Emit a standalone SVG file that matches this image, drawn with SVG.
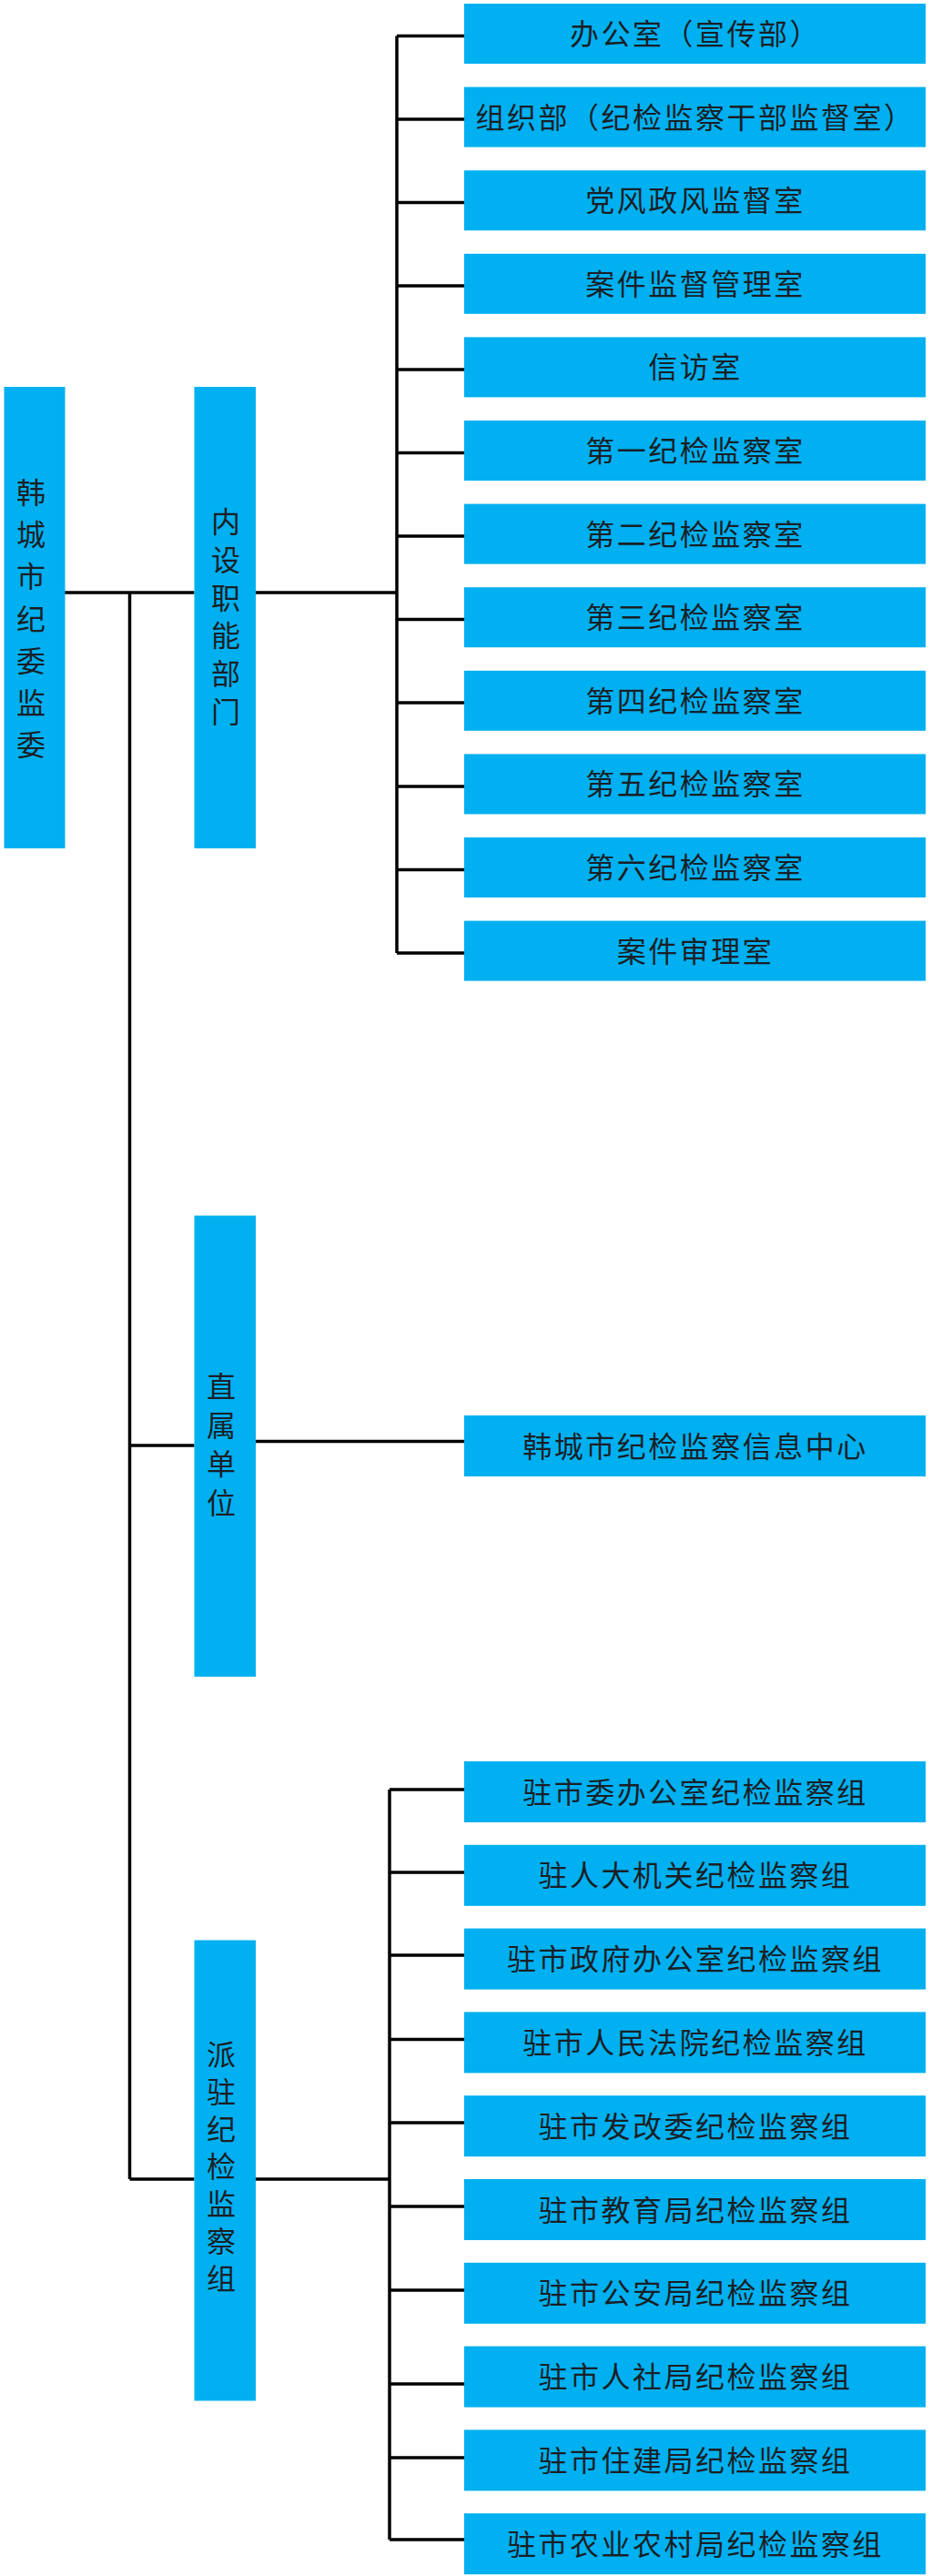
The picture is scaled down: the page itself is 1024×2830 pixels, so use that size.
<svg xmlns="http://www.w3.org/2000/svg" width="1024" height="2830" viewBox="0 0 1024 2830">
<style>
.box{fill:#00B0F0}
.t{font-family:"Noto Sans CJK SC","Noto Sans CJK TC",sans-serif;font-size:32px;fill:#1a1f26;letter-spacing:2.5px;text-anchor:middle}
.v{font-family:"Noto Sans CJK SC","Noto Sans CJK TC",sans-serif;font-size:32px;fill:#1a1f26;text-anchor:middle}
.ln{stroke:#000;stroke-width:3.5;fill:none}
</style>
<rect width="1024" height="2830" fill="#fff"/>
<g id="connectors" class="ln">
<path d="M67 651H213.5M281 651H436M436 39.5V1047"/>
<path d="M436 39.5H510M436 131H510M436 222.5H510M436 314H510M436 406H510M436 497.5H510M436 589H510M436 680.5H510M436 772H510M436 864H510M436 955.5H510M436 1047H510"/>
<path d="M142.5 651V2394M142.5 1588H213.5M281 1583.5H510M142.5 2394H213.5M281 2394H428M428 1966V2790"/>
<path d="M428 1966H510M428 2057H510M428 2148H510M428 2240.5H510M428 2332H510M428 2424H510M428 2516H510M428 2619H510M428 2700H510M428 2790H510"/>
</g>
<g id="root"><rect class="box" x="4.5" y="425" width="67" height="507"/>
<text class="v" x="34"><tspan x="34" y="553">韩</tspan><tspan x="34" y="599.2">城</tspan><tspan x="34" y="645.4">市</tspan><tspan x="34" y="691.6">纪</tspan><tspan x="34" y="737.8">委</tspan><tspan x="34" y="784">监</tspan><tspan x="34" y="830.2">委</tspan></text></g>
<g id="neishe"><rect class="box" x="213.5" y="425" width="67.5" height="507"/>
<text class="v"><tspan x="248" y="585">内</tspan><tspan x="248" y="626.8">设</tspan><tspan x="248" y="668.6">职</tspan><tspan x="248" y="710.4">能</tspan><tspan x="248" y="752.2">部</tspan><tspan x="248" y="794">门</tspan></text></g>
<g id="zhishu"><rect class="box" x="213.5" y="1335.5" width="67.5" height="506.5"/>
<text class="v"><tspan x="243" y="1535">直</tspan><tspan x="243" y="1577.5">属</tspan><tspan x="243" y="1620">单</tspan><tspan x="243" y="1662.5">位</tspan></text></g>
<g id="paizhu"><rect class="box" x="213.5" y="2131.5" width="67.5" height="506"/>
<text class="v"><tspan x="243" y="2269">派</tspan><tspan x="243" y="2310">驻</tspan><tspan x="243" y="2351">纪</tspan><tspan x="243" y="2392">检</tspan><tspan x="243" y="2433">监</tspan><tspan x="243" y="2474">察</tspan><tspan x="243" y="2515">组</tspan></text></g>
<g id="n1"><rect class="box" x="510" y="4" width="507" height="66"/><text class="t" x="764" y="49">办公室（宣传部）</text></g>
<g id="n2"><rect class="box" x="510" y="95.6" width="507" height="66"/><text class="t" x="764" y="140.6">组织部（纪检监察干部监督室）</text></g>
<g id="n3"><rect class="box" x="510" y="187.2" width="507" height="66"/><text class="t" x="764" y="232.2">党风政风监督室</text></g>
<g id="n4"><rect class="box" x="510" y="278.8" width="507" height="66"/><text class="t" x="764" y="323.8">案件监督管理室</text></g>
<g id="n5"><rect class="box" x="510" y="370.4" width="507" height="66"/><text class="t" x="764" y="415.4">信访室</text></g>
<g id="n6"><rect class="box" x="510" y="462" width="507" height="66"/><text class="t" x="764" y="507">第一纪检监察室</text></g>
<g id="n7"><rect class="box" x="510" y="553.6" width="507" height="66"/><text class="t" x="764" y="598.6">第二纪检监察室</text></g>
<g id="n8"><rect class="box" x="510" y="645.2" width="507" height="66"/><text class="t" x="764" y="690.2">第三纪检监察室</text></g>
<g id="n9"><rect class="box" x="510" y="736.8" width="507" height="66"/><text class="t" x="764" y="781.8">第四纪检监察室</text></g>
<g id="n10"><rect class="box" x="510" y="828.4" width="507" height="66"/><text class="t" x="764" y="873.4">第五纪检监察室</text></g>
<g id="n11"><rect class="box" x="510" y="920" width="507" height="66"/><text class="t" x="764" y="965">第六纪检监察室</text></g>
<g id="n12"><rect class="box" x="510" y="1011.6" width="507" height="66"/><text class="t" x="764" y="1056.6">案件审理室</text></g>
<g id="info"><rect class="box" x="510" y="1555" width="507" height="67"/><text class="t" x="764" y="1600.5">韩城市纪检监察信息中心</text></g>
<g id="g1"><rect class="box" x="510" y="1935" width="507" height="67"/><text class="t" x="764" y="1980.5">驻市委办公室纪检监察组</text></g>
<g id="g2"><rect class="box" x="510" y="2026.8" width="507" height="67"/><text class="t" x="764" y="2072.3">驻人大机关纪检监察组</text></g>
<g id="g3"><rect class="box" x="510" y="2118.6" width="507" height="67"/><text class="t" x="764" y="2164.1">驻市政府办公室纪检监察组</text></g>
<g id="g4"><rect class="box" x="510" y="2210.4" width="507" height="67"/><text class="t" x="764" y="2255.9">驻市人民法院纪检监察组</text></g>
<g id="g5"><rect class="box" x="510" y="2302.2" width="507" height="67"/><text class="t" x="764" y="2347.7">驻市发改委纪检监察组</text></g>
<g id="g6"><rect class="box" x="510" y="2394" width="507" height="67"/><text class="t" x="764" y="2439.5">驻市教育局纪检监察组</text></g>
<g id="g7"><rect class="box" x="510" y="2485.8" width="507" height="67"/><text class="t" x="764" y="2531.3">驻市公安局纪检监察组</text></g>
<g id="g8"><rect class="box" x="510" y="2577.6" width="507" height="67"/><text class="t" x="764" y="2623.1">驻市人社局纪检监察组</text></g>
<g id="g9"><rect class="box" x="510" y="2669.4" width="507" height="67"/><text class="t" x="764" y="2714.9">驻市住建局纪检监察组</text></g>
<g id="g10"><rect class="box" x="510" y="2761.2" width="507" height="67"/><text class="t" x="764" y="2806.7">驻市农业农村局纪检监察组</text></g>
</svg>
